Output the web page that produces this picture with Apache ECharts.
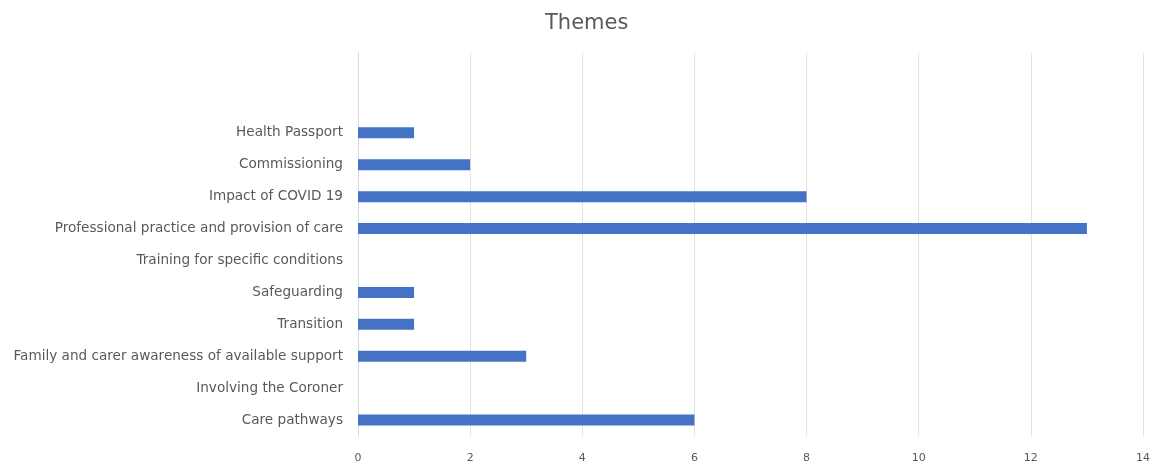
<!DOCTYPE html>
<html>
<head>
<meta charset="utf-8">
<script src="https://cdn.jsdelivr.net/npm/echarts@6/dist/echarts.min.js"></script>
<style>
  html, body { margin: 0; padding: 0; background: #fff; }
  #chart { width: 1157px; height: 468px; }
</style>
</head>
<body>
<div id="chart"></div>
<script>
// Themes, listed bottom to top; the two trailing blanks are empty rows
const categories = [
  'Care pathways',
  'Involving the Coroner',
  'Family and carer awareness of available support',
  'Transition',
  'Safeguarding',
  'Training for specific conditions',
  'Professional practice and provision of care',
  'Impact of COVID 19',
  'Commissioning',
  'Health Passport',
  '',
  ''
];
const counts = [6, null, 3, 1, 1, null, 13, 8, 2, 1, null, null];
const xTicks = { min: 0, max: 14, interval: 2 };

const chart = echarts.init(document.getElementById('chart'), null, { renderer: 'canvas' });
const textColor = '#595959';
const font = 'DejaVu Sans, Verdana, sans-serif';

chart.setOption({
  animation: false,
  backgroundColor: '#ffffff',
  title: {
    text: 'Themes',
    left: 545,
    top: 13,
    padding: 0,
    textStyle: { color: textColor, fontSize: 21, fontWeight: 'normal', fontFamily: font }
  },
  grid: { left: 358, right: 14, top: 53, bottom: 32, containLabel: false },
  xAxis: {
    type: 'value',
    min: xTicks.min,
    max: xTicks.max,
    interval: xTicks.interval,
    axisLine: { show: false },
    axisTick: { show: false },
    axisLabel: { color: textColor, fontSize: 11, fontFamily: font, margin: 17 },
    splitLine: { show: true, lineStyle: { color: '#e3e3e3', width: 1 } }
  },
  yAxis: {
    type: 'category',
    data: categories,
    axisLine: { show: true, lineStyle: { color: '#d9d9d9', width: 1 } },
    axisTick: { show: false },
    axisLabel: { color: textColor, fontSize: 13.6, fontFamily: font, margin: 15 },
    splitLine: { show: false }
  },
  series: [{
    type: 'bar',
    data: counts,
    barWidth: 11,
    itemStyle: { color: '#4472C4' }
  }]
});
</script>
</body>
</html>
